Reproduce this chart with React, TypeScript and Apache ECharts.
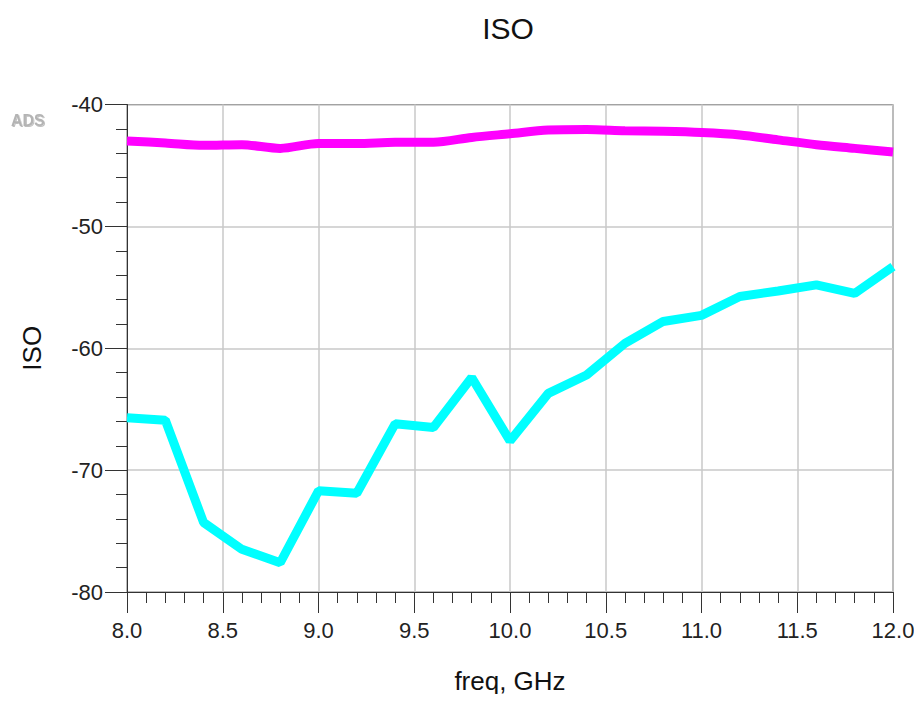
import React, { useEffect, useRef } from "react";
import * as echarts from "echarts";

// Frequency sweep points (GHz)
const freqGHz = [8.0, 8.2, 8.4, 8.6, 8.8, 9.0, 9.2, 9.4, 9.6, 9.8, 10.0, 10.2, 10.4, 10.6, 10.8, 11.0, 11.2, 11.4, 11.6, 11.8, 12.0];

// Isolation traces (dB)
const isoUpper = [-43.0, -43.15, -43.35, -43.3, -43.6, -43.2, -43.2, -43.1, -43.1, -42.7, -42.4, -42.1, -42.05, -42.15, -42.2, -42.3, -42.5, -42.9, -43.3, -43.6, -43.9];
const isoLower = [-65.7, -65.9, -74.3, -76.5, -77.6, -71.7, -71.9, -66.2, -66.5, -62.4, -67.6, -63.7, -62.2, -59.6, -57.8, -57.3, -55.75, -55.3, -54.8, -55.5, -53.3];

const FONT = "'Liberation Sans', Arial, sans-serif";

export default function App() {
  const ref = useRef<HTMLDivElement>(null);

  useEffect(() => {
    if (!ref.current) return;
    const chart = echarts.init(ref.current, null, { renderer: "svg" });
    const pair = (ys: number[]) => freqGHz.map((f, i) => [f, ys[i]]);
    chart.setOption({
      animation: false,
      backgroundColor: "#ffffff",
      textStyle: { fontFamily: FONT },
      graphic: [
        {
          type: "text",
          x: 508,
          y: 28,
          style: {
            text: "ISO",
            fill: "#111",
            font: `30px ${FONT}`,
            textAlign: "center",
            textVerticalAlign: "middle",
          },
        },
        {
          type: "text",
          x: 11,
          y: 112,
          style: {
            text: "ADS",
            fill: "#b4b4b4",
            font: `bold 16px ${FONT}`,
            textShadowColor: "rgba(0,0,0,0.25)",
            textShadowBlur: 1,
            textShadowOffsetX: 1,
            textShadowOffsetY: 1,
          },
        },
      ],
      grid: {
        left: 127,
        right: 29,
        top: 104.5,
        bottom: 110,
        show: true,
        borderColor: "#333",
        borderWidth: 1,
        backgroundColor: "transparent",
      },
      xAxis: {
        type: "value",
        min: 8,
        max: 12,
        interval: 0.5,
        name: "freq, GHz",
        nameLocation: "middle",
        nameGap: 76,
        nameTextStyle: { fontSize: 26, color: "#111", fontFamily: FONT },
        axisLine: { show: true, lineStyle: { color: "#333", width: 1 } },
        axisTick: { show: true, length: 21, lineStyle: { color: "#333" } },
        minorTick: { show: true, splitNumber: 5, length: 11, lineStyle: { color: "#333" } },
        axisLabel: {
          fontSize: 22,
          color: "#222",
          margin: 27,
          formatter: (v: number) => v.toFixed(1),
        },
        splitLine: { show: true, lineStyle: { color: "#c8c8c8", width: 1.5 } },
      },
      yAxis: {
        type: "value",
        min: -80,
        max: -40,
        interval: 10,
        name: "ISO",
        nameLocation: "middle",
        nameGap: 82,
        nameTextStyle: { fontSize: 26, color: "#111", fontFamily: FONT },
        axisLine: { show: true, lineStyle: { color: "#333", width: 1 } },
        axisTick: { show: true, length: 22, lineStyle: { color: "#333" } },
        minorTick: { show: true, splitNumber: 5, length: 11, lineStyle: { color: "#333" } },
        axisLabel: { fontSize: 22, color: "#222", margin: 24 },
        splitLine: { show: true, lineStyle: { color: "#c8c8c8", width: 1.5 } },
      },
      series: [
        {
          name: "ISO upper",
          type: "line",
          data: pair(isoUpper),
          symbol: "none",
          smooth: 0.3,
          lineStyle: { color: "#ff00ff", width: 9 },
        },
        {
          name: "ISO lower",
          type: "line",
          data: pair(isoLower),
          symbol: "none",
          lineStyle: { color: "#00ffff", width: 9 },
        },
      ],
    });
    return () => chart.dispose();
  }, []);

  return <div ref={ref} style={{ width: 922, height: 702, margin: -8 }} />;
}
